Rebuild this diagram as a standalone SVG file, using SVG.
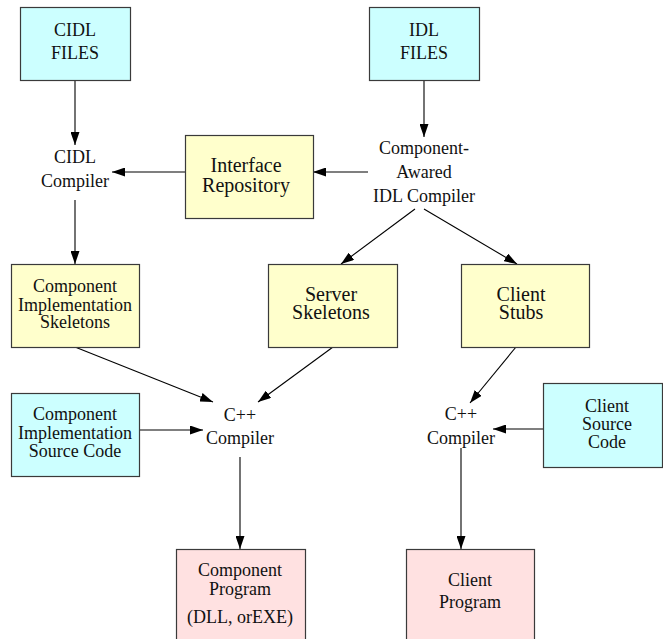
<svg xmlns="http://www.w3.org/2000/svg" width="663" height="639" viewBox="0 0 663 639" font-family="'Liberation Serif', Tinos, 'Times New Roman', 'Nimbus Roman', 'DejaVu Serif', serif">
  <style>
    text { font-family: 'Liberation Serif', Tinos, 'Times New Roman', 'Nimbus Roman', 'DejaVu Serif', serif; font-size: 18px; fill: #111; text-anchor: middle; }
    .big { font-size: 20px; }
    .box { stroke: #3a3a3a; stroke-width: 1.2; }
    .src { fill: #ccffff; }
    .gen { fill: #ffffcc; }
    .out { fill: #ffe1e1; }
    .edge { stroke: #000; stroke-width: 1.1; fill: none; marker-end: url(#arrow); }
  </style>
  <defs>
    <marker id="arrow" viewBox="0 0 13 9" refX="13" refY="4.5" markerWidth="13" markerHeight="9" markerUnits="userSpaceOnUse" orient="auto">
      <path d="M0,0 L13,4.5 L0,9 z" fill="#000"/>
    </marker>
  </defs>

  <g id="connectors">
    <line class="edge" x1="75" y1="80" x2="75" y2="145"/>
    <line class="edge" x1="185" y1="172" x2="112" y2="172"/>
    <line class="edge" x1="368" y1="172" x2="313" y2="172"/>
    <line class="edge" x1="424" y1="80" x2="424" y2="137"/>
    <line class="edge" x1="75" y1="200" x2="75" y2="264"/>
    <line class="edge" x1="415" y1="209" x2="341" y2="264"/>
    <line class="edge" x1="424" y1="209" x2="517" y2="264"/>
    <line class="edge" x1="75" y1="347" x2="213" y2="402"/>
    <line class="edge" x1="333" y1="347" x2="258" y2="402"/>
    <line class="edge" x1="139" y1="430" x2="203" y2="430"/>
    <line class="edge" x1="240" y1="457" x2="240" y2="549"/>
    <line class="edge" x1="516" y1="347" x2="470" y2="403"/>
    <line class="edge" x1="543" y1="429" x2="493" y2="429"/>
    <line class="edge" x1="461" y1="448" x2="461" y2="549"/>
  </g>

  <g id="cidl-files">
    <rect class="box src" x="20.5" y="7.5" width="110" height="73"/>
    <text x="75" y="36">CIDL</text>
    <text x="75" y="59">FILES</text>
  </g>

  <g id="idl-files">
    <rect class="box src" x="369.5" y="7.5" width="110" height="73"/>
    <text x="424" y="36">IDL</text>
    <text x="424" y="59">FILES</text>
  </g>

  <g id="cidl-compiler">
    <text x="75" y="163">CIDL</text>
    <text x="75" y="187">Compiler</text>
  </g>

  <g id="interface-repository">
    <rect class="box gen" x="185.5" y="135.5" width="128" height="83"/>
    <text class="big" x="246" y="172">Interface</text>
    <text class="big" x="246" y="192">Repository</text>
  </g>

  <g id="idl-compiler">
    <text x="424" y="154">Component-</text>
    <text x="424" y="178">Awared</text>
    <text x="424" y="202">IDL Compiler</text>
  </g>

  <g id="component-skeletons">
    <rect class="box gen" x="11.5" y="264.5" width="128" height="83"/>
    <text x="75" y="292">Component</text>
    <text x="75" y="311">Implementation</text>
    <text x="75" y="328">Skeletons</text>
  </g>

  <g id="server-skeletons">
    <rect class="box gen" x="268.5" y="264.5" width="129" height="83"/>
    <text class="big" x="331" y="301">Server</text>
    <text class="big" x="331" y="319">Skeletons</text>
  </g>

  <g id="client-stubs">
    <rect class="box gen" x="461.5" y="264.5" width="128" height="83"/>
    <text class="big" x="521" y="301">Client</text>
    <text class="big" x="521" y="319">Stubs</text>
  </g>

  <g id="component-source">
    <rect class="box src" x="11.5" y="393.5" width="128" height="83"/>
    <text x="75" y="420">Component</text>
    <text x="75" y="439">Implementation</text>
    <text x="75" y="457">Source Code</text>
  </g>

  <g id="cpp-compiler-component">
    <text x="240" y="421">C++</text>
    <text x="240" y="444">Compiler</text>
  </g>

  <g id="cpp-compiler-client">
    <text x="461" y="420">C++</text>
    <text x="461" y="444">Compiler</text>
  </g>

  <g id="client-source">
    <rect class="box src" x="543.5" y="383.5" width="119" height="84"/>
    <text x="607" y="412">Client</text>
    <text x="607" y="430">Source</text>
    <text x="607" y="448">Code</text>
  </g>

  <g id="component-program">
    <rect class="box out" x="176.5" y="549.5" width="129" height="100"/>
    <text x="240" y="576">Component</text>
    <text x="240" y="595">Program</text>
    <text x="240" y="623">(DLL, orEXE)</text>
  </g>

  <g id="client-program">
    <rect class="box out" x="406.5" y="549.5" width="128" height="100"/>
    <text x="470" y="586">Client</text>
    <text x="470" y="608">Program</text>
  </g>
</svg>
